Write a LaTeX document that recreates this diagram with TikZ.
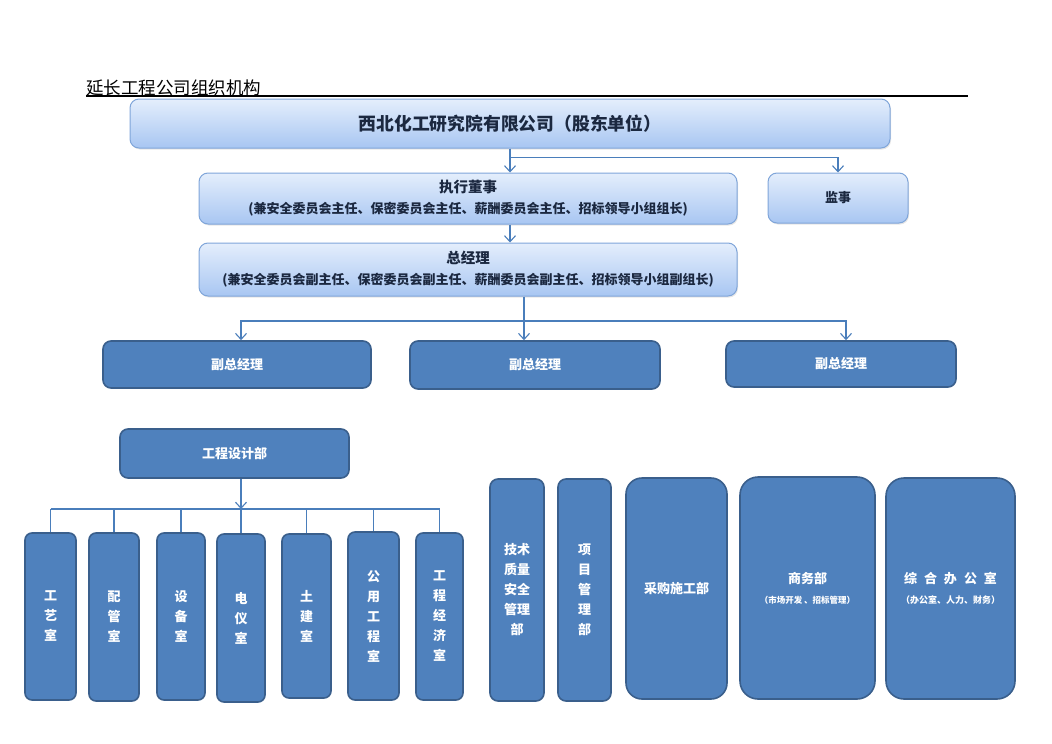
\documentclass[tikz,border=0pt]{standalone}
\usepackage{fontspec}
\setmainfont{Noto Sans CJK SC}
\usepackage{tikz}
\usetikzlibrary{arrows.meta,shadows}

\definecolor{boxblue}{HTML}{4F81BD}
\definecolor{boxedge}{HTML}{3A5F8C}
\definecolor{lighttop}{HTML}{E4EEFC}
\definecolor{lightbot}{HTML}{A8C6F2}
\definecolor{lightedge}{HTML}{7FA5D9}
\definecolor{linkblue}{HTML}{4A7EBB}
\definecolor{navytext}{HTML}{1B2840}

\tikzset{
  lightbox/.style={draw=lightedge, line width=1pt, rounded corners=9pt,
    top color=lighttop, bottom color=lightbot, text=navytext, inner sep=0pt,
    align=center, drop shadow={shadow xshift=1pt, shadow yshift=-1.5pt, opacity=0.2}},
  darkbox/.style={draw=boxedge, line width=1.6pt, fill=boxblue, text=white,
    font=\bfseries\fontsize{13}{20}\selectfont, inner sep=0pt, align=center,
    rounded corners=8pt},
  link/.style={draw=linkblue, line width=1.1pt},
}

\begin{document}
\begin{tikzpicture}[x=1pt,y=-1pt,>={Straight Barb[length=6pt,width=11pt]}]
\useasboundingbox (0,0) rectangle (1052,744);
%title
	\node[anchor=south west, inner sep=0pt, font=\fontsize{17.5}{20}\selectfont] (title) at (86,96) {延长工程公司组织机构};
	\coordinate (ruleend) at (968,96);
	\draw[line width=1.3pt] (title.south west) -- (title.south west -| ruleend);
%top levels
	\node[lightbox, minimum width=760pt, minimum height=49pt, font=\bfseries\fontsize{17.8}{20}\selectfont] (board) at (510,123.5) {西北化工研究院有限公司（股东单位）};
	\node[lightbox, minimum width=538pt, minimum height=51pt, font=\bfseries\fontsize{13}{21}\selectfont] (exec) at (468,198.5) {{\fontsize{14.5}{21}\selectfont 执行董事}\\(兼安全委员会主任、保密委员会主任、薪酬委员会主任、招标领导小组组长)};
	\node[lightbox, minimum width=140pt, minimum height=50pt, font=\bfseries\fontsize{13}{16}\selectfont] (supv) at (838,198) {监事};
	\node[lightbox, minimum width=538pt, minimum height=53pt, font=\bfseries\fontsize{13}{21}\selectfont] (gm) at (468,269.5) {{\fontsize{14.5}{21}\selectfont 总经理}\\(兼安全委员会副主任、保密委员会副主任、薪酬委员会副主任、招标领导小组副组长)};
%deputies
	\node[darkbox, minimum width=268pt, minimum height=47pt] (vpa) at (237,364.5) {副总经理};
	\node[darkbox, minimum width=250pt, minimum height=48pt] (vpb) at (535,365) {副总经理};
	\node[darkbox, minimum width=230pt, minimum height=46pt] (vpc) at (841,364) {副总经理};
%design dept and rooms
	\node[darkbox, minimum width=229pt, minimum height=49pt] (design) at (234.5,453.5) {工程设计部};
	\node[darkbox, rounded corners=7pt, minimum width=51pt, minimum height=167pt] (craft) at (50.5,616.5) {工\\艺\\室};
	\node[darkbox, rounded corners=7pt, minimum width=50pt, minimum height=168pt] (piping) at (114,617) {配\\管\\室};
	\node[darkbox, rounded corners=7pt, minimum width=48pt, minimum height=167pt] (equip) at (181,616.5) {设\\备\\室};
	\node[darkbox, rounded corners=7pt, minimum width=48pt, minimum height=168pt] (elec) at (241,618) {电\\仪\\室};
	\node[darkbox, rounded corners=7pt, minimum width=49pt, minimum height=164pt] (civil) at (306.5,616) {土\\建\\室};
	\node[darkbox, rounded corners=7pt, minimum width=51pt, minimum height=168pt] (utility) at (373.5,616) {公\\用\\工\\程\\室};
	\node[darkbox, rounded corners=7pt, minimum width=47pt, minimum height=167pt] (costing) at (439.5,616.5) {工\\程\\经\\济\\室};
%other depts
	\node[darkbox, minimum width=54pt, minimum height=222pt] (tech) at (517,590) {技术\\质量\\安全\\管理\\部};
	\node[darkbox, minimum width=53pt, minimum height=222pt] (proj) at (584.5,590) {项\\目\\管\\理\\部};
	\node[darkbox, rounded corners=16pt, minimum width=101pt, minimum height=221pt] (purch) at (676.5,588.5) {采购施工部};
	\node[darkbox, rounded corners=18pt, minimum width=135pt, minimum height=222pt] (biz) at (807.5,588) {商务部\\{\fontsize{8.5}{20}\selectfont （市场开发 、招标管理）}};
	\node[darkbox, rounded corners=18pt, minimum width=129pt, minimum height=221pt] (admin) at (950.5,588.5) {综\hspace{7pt}合\hspace{7pt}办\hspace{7pt}公\hspace{7pt}室\\{\fontsize{9}{20}\selectfont （办公室、人力、财务）}};
%links
	\draw[link,->] (board.south) -- (board.south |- exec.north);
	\draw[link,->] (board.south) -- ++(0,9) -| (supv.north);
	\draw[link,->] (exec.south -| board.south) -- (gm.north -| board.south);
	\coordinate (split) at (524,321);
	\draw[link] (gm.south -| split) -- (split);
	\draw[link,->] (split) -- (split |- vpb.north);
	\draw[link,->] (split) -| ([xshift=4pt]vpa.north);
	\draw[link,->] (split) -| ([xshift=5pt]vpc.north);
	\coordinate (bus) at (241,509);
	\draw[link,->] (design.south -| bus) -- (bus);
	\draw[link] (craft.north |- bus) -- (costing.north |- bus);
	\draw[link] (craft.north |- bus) -- (craft.north);
	\draw[link] (piping.north |- bus) -- (piping.north);
	\draw[link] (equip.north |- bus) -- (equip.north);
	\draw[link] (elec.north |- bus) -- (elec.north);
	\draw[link] (civil.north |- bus) -- (civil.north);
	\draw[link] (utility.north |- bus) -- (utility.north);
	\draw[link] (costing.north |- bus) -- (costing.north);
\end{tikzpicture}
\end{document}
